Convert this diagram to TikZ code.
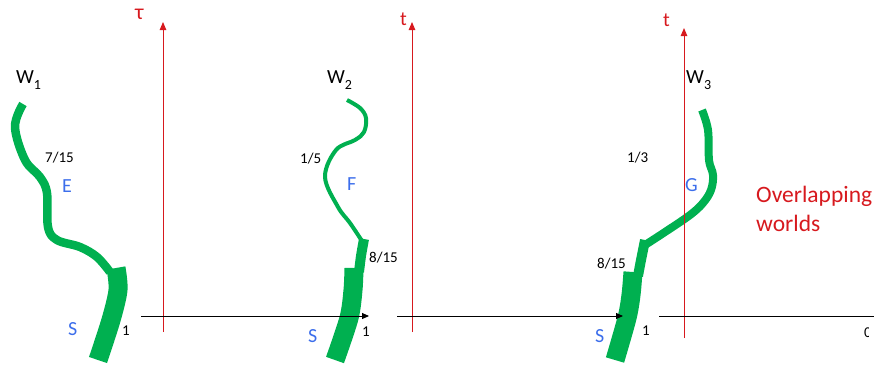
\documentclass[tikz,border=0pt]{standalone}
\usepackage{fontspec}
\setmainfont{Carlito}
\usepackage{tikz}
\usetikzlibrary{arrows.meta}
\definecolor{worldgreen}{RGB}{0,176,80}
\definecolor{labblue}{RGB}{60,110,235}
\definecolor{axred}{RGB}{215,25,30}
\newcommand{\wname}[1]{W\raisebox{-6.5pt}{\fontsize{14}{14}\selectfont #1}}

\begin{document}
\begin{tikzpicture}[
  x=1pt, y=-1pt,
  font=\fontsize{20}{24}\selectfont,
  wl/.style={draw=worldgreen, line cap=butt, line join=round},
  tax/.style={-{Triangle[length=8pt,width=6.5pt]}, draw=axred, line width=0.9pt},
  sax/.style={draw=black, line width=0.9pt},
  sarr/.style={sax, -{Triangle[length=7pt,width=6pt]}},
  lab/.style={anchor=base west, inner sep=0pt},
  wlab/.style={lab, text=black},
  slab/.style={lab, text=labblue},
  num/.style={lab, font=\fontsize{15}{18}\selectfont},
  tlab/.style={lab, text=axred},
]
\clip (0,0) rectangle (874,365);
% ---- world 1: E then S ----
\draw[wl, line width=8.5pt] plot[smooth, tension=0.6] coordinates {(23,104) (15,127) (25,160) (40,177) (47,193) (48,227) (57,240) (80,247) (97,257) (110,272)};
\draw[wl, line width=19pt] plot[smooth] coordinates {(116,268) (118,290) (111,320) (98,360)};
% ---- world 2: F, 8/15 part, S ----
\draw[wl, line width=4pt] plot[smooth, tension=0.6] coordinates {(347,100) (360,108) (366,118) (364,132) (355,140) (336,150) (325,177) (338,207) (350,223) (362,241)};
\draw[wl, line width=10pt] plot[smooth] coordinates {(364,239) (361,256) (359,272)};
\draw[wl, line width=19pt] plot[smooth] coordinates {(354,268) (353,290) (349,318) (335,360)};
% ---- world 3: G, 8/15 part, S ----
\draw[wl, line width=8pt] plot[smooth, tension=0.6] coordinates {(702,110) (708,130) (709,160) (713,175) (711,190) (703,203) (690,215) (665,232) (645,245)};
\draw[wl, line width=10pt] plot[smooth] coordinates {(645,240) (641,260) (638,276)};
\draw[wl, line width=19pt] plot[smooth] coordinates {(633,272) (631,295) (627,318) (615,360)};
% ---- axes ----
\coordinate (o1) at (163,332); \coordinate (t1) at (163,22);
\coordinate (o2) at (412,332); \coordinate (t2) at (412,22);
\coordinate (o3) at (684,338); \coordinate (t3) at (684,28);
\coordinate (x1a) at (141,316); \coordinate (x1b) at (369,316);
\coordinate (x2a) at (397,316); \coordinate (x2b) at (623,316);
\coordinate (x3a) at (659,316); \coordinate (x3b) at (874,316);
\draw[tax] (o1) -- (t1);
\draw[tax] (o2) -- (t2);
\draw[tax] (o3) -- (t3);
\draw[sarr] (x1a) -- (x1b);
\draw[sarr] (x2a) -- (x2b);
\draw[sax] (x3a) -- (x3b);
\node[tlab, font=\fontsize{22}{24}\selectfont] (tau) at (135,19) {τ};
\node[tlab] (tb) at (400,25) {t};
\node[tlab] (tc) at (663,26) {t};
% ---- labels ----
\node[wlab] (w1) at (16,83) {\wname{1}};
\node[wlab] (w2) at (327,83) {\wname{2}};
\node[wlab] (w3) at (686,83) {\wname{3}};
\node[num] (p1) at (45,162) {7/15};
\node[slab] (e) at (62,192) {E};
\node[slab] (s1) at (68,335) {S};
\node[num] (one1) at (122,335) {1};
\node[num] (p2) at (300,163) {1/5};
\node[slab] (f) at (347,190) {F};
\node[num] (q2) at (369,262) {8/15};
\node[slab] (s2) at (308,342) {S};
\node[num] (one2) at (362,336) {1};
\node[num] (p3) at (627,162) {1/3};
\node[slab] (g) at (685,191) {G};
\node[num] (q3) at (597,268) {8/15};
\node[slab] (s3) at (595,342) {S};
\node[num] (one3) at (642,335) {1};
\node[lab, text=axred, font=\fontsize{23.5}{29}\selectfont, align=left, anchor=north west] (ovl) at (756,186) {Overlapping\\worlds};
\begin{scope}
  \clip (0,0) rectangle (868,365);
  \node[num] (zero) at (864,337) {0};
\end{scope}
\end{tikzpicture}
\end{document}
